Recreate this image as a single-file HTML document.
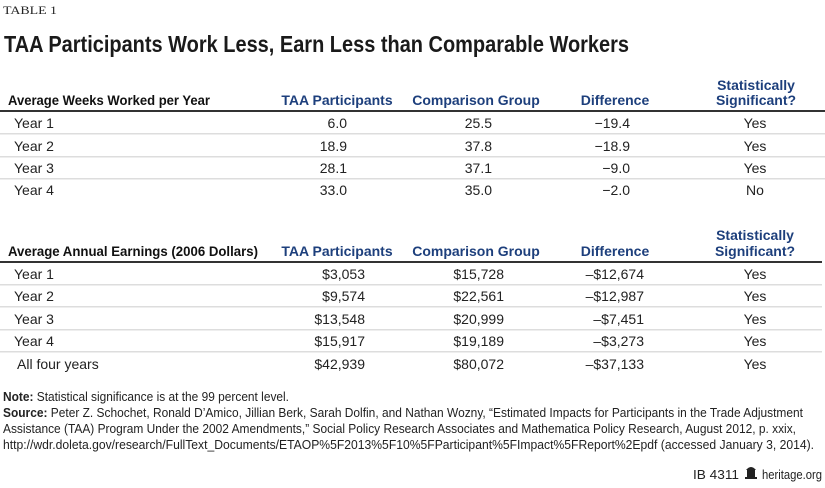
<!DOCTYPE html>
<html><head><meta charset="utf-8"><style>
html,body{margin:0;padding:0;background:#fff;}
svg{display:block;}
text{font-family:"Liberation Sans",sans-serif;}
.r{font-size:14px;fill:#222;}
.h{font-size:14px;font-weight:bold;fill:#111;}
.b{font-size:14px;font-weight:bold;fill:#1d3f7c;}
.f{font-size:12.5px;fill:#222;}
</style></head><body>
<svg width="825" height="488" viewBox="0 0 825 488" xmlns="http://www.w3.org/2000/svg">
<text x="3" y="14" style="font-family:'Liberation Serif',serif;font-size:12px;fill:#222" textLength="54" lengthAdjust="spacingAndGlyphs">TABLE 1</text>
<text x="4" y="52" style="font-size:23px;font-weight:bold;fill:#1a1a1a" textLength="625" lengthAdjust="spacingAndGlyphs">TAA Participants Work Less, Earn Less than Comparable Workers</text>

<!-- Section 1 -->
<text class="h" x="8" y="105" textLength="202" lengthAdjust="spacingAndGlyphs">Average Weeks Worked per Year</text>
<text class="b" x="337" y="105" text-anchor="middle">TAA Participants</text>
<text class="b" x="476" y="105" text-anchor="middle">Comparison Group</text>
<text class="b" x="615" y="105" text-anchor="middle">Difference</text>
<text class="b" x="756" y="90" text-anchor="middle">Statistically</text>
<text class="b" x="756" y="105" text-anchor="middle">Significant?</text>
<rect x="0" y="110" width="825" height="2" fill="#333"/>
<rect x="0" y="133" width="825" height="1.5" fill="#ddd"/>
<rect x="0" y="156" width="825" height="1.5" fill="#ddd"/>
<rect x="0" y="178" width="825" height="1.5" fill="#ddd"/>

<g class="r">
<text class="r" x="14" y="128">Year 1</text><text class="r" x="347" y="128" text-anchor="end">6.0</text><text class="r" x="492" y="128" text-anchor="end">25.5</text><text class="r" x="630" y="128" text-anchor="end">−19.4</text><text class="r" x="755" y="128" text-anchor="middle">Yes</text>
<text class="r" x="14" y="151">Year 2</text><text class="r" x="347" y="151" text-anchor="end">18.9</text><text class="r" x="492" y="151" text-anchor="end">37.8</text><text class="r" x="630" y="151" text-anchor="end">−18.9</text><text class="r" x="755" y="151" text-anchor="middle">Yes</text>
<text class="r" x="14" y="173">Year 3</text><text class="r" x="347" y="173" text-anchor="end">28.1</text><text class="r" x="492" y="173" text-anchor="end">37.1</text><text class="r" x="630" y="173" text-anchor="end">−9.0</text><text class="r" x="755" y="173" text-anchor="middle">Yes</text>
<text class="r" x="14" y="195">Year 4</text><text class="r" x="347" y="195" text-anchor="end">33.0</text><text class="r" x="492" y="195" text-anchor="end">35.0</text><text class="r" x="630" y="195" text-anchor="end">−2.0</text><text class="r" x="755" y="195" text-anchor="middle">No</text>
</g>

<!-- Section 2 -->
<text class="h" x="8" y="256" textLength="250" lengthAdjust="spacingAndGlyphs">Average Annual Earnings (2006 Dollars)</text>
<text class="b" x="337" y="256" text-anchor="middle">TAA Participants</text>
<text class="b" x="476" y="256" text-anchor="middle">Comparison Group</text>
<text class="b" x="615" y="256" text-anchor="middle">Difference</text>
<text class="b" x="755" y="240" text-anchor="middle">Statistically</text>
<text class="b" x="755" y="256" text-anchor="middle">Significant?</text>
<rect x="0" y="261" width="822" height="2" fill="#333"/>
<rect x="0" y="284" width="822" height="1.5" fill="#ddd"/>
<rect x="0" y="306" width="822" height="1.5" fill="#ddd"/>
<rect x="0" y="329" width="822" height="1.5" fill="#ddd"/>
<rect x="0" y="351" width="822" height="1.5" fill="#ddd"/>

<text class="r" x="14" y="279">Year 1</text><text class="r" x="365" y="279" text-anchor="end">$3,053</text><text class="r" x="504" y="279" text-anchor="end">$15,728</text><text class="r" x="644" y="279" text-anchor="end">–$12,674</text><text class="r" x="755" y="279" text-anchor="middle">Yes</text>
<text class="r" x="14" y="301">Year 2</text><text class="r" x="365" y="301" text-anchor="end">$9,574</text><text class="r" x="504" y="301" text-anchor="end">$22,561</text><text class="r" x="644" y="301" text-anchor="end">–$12,987</text><text class="r" x="755" y="301" text-anchor="middle">Yes</text>
<text class="r" x="14" y="324">Year 3</text><text class="r" x="365" y="324" text-anchor="end">$13,548</text><text class="r" x="504" y="324" text-anchor="end">$20,999</text><text class="r" x="644" y="324" text-anchor="end">–$7,451</text><text class="r" x="755" y="324" text-anchor="middle">Yes</text>
<text class="r" x="14" y="346">Year 4</text><text class="r" x="365" y="346" text-anchor="end">$15,917</text><text class="r" x="504" y="346" text-anchor="end">$19,189</text><text class="r" x="644" y="346" text-anchor="end">–$3,273</text><text class="r" x="755" y="346" text-anchor="middle">Yes</text>
<text class="r" x="17" y="369">All four years</text><text class="r" x="365" y="369" text-anchor="end">$42,939</text><text class="r" x="504" y="369" text-anchor="end">$80,072</text><text class="r" x="644" y="369" text-anchor="end">–$37,133</text><text class="r" x="755" y="369" text-anchor="middle">Yes</text>

<!-- Footnotes -->
<text class="f" x="3" y="401" textLength="286" lengthAdjust="spacingAndGlyphs"><tspan font-weight="bold">Note:</tspan> Statistical significance is at the 99 percent level.</text>
<text class="f" x="3" y="417" textLength="800" lengthAdjust="spacingAndGlyphs"><tspan font-weight="bold">Source:</tspan> Peter Z. Schochet, Ronald D’Amico, Jillian Berk, Sarah Dolfin, and Nathan Wozny, “Estimated Impacts for Participants in the Trade Adjustment</text>
<text class="f" x="3" y="433" textLength="793" lengthAdjust="spacingAndGlyphs">Assistance (TAA) Program Under the 2002 Amendments,” Social Policy Research Associates and Mathematica Policy Research, August 2012, p. xxix,</text>
<text class="f" x="3" y="449" textLength="811" lengthAdjust="spacingAndGlyphs">http://wdr.doleta.gov/research/FullText_Documents/ETAOP%5F2013%5F10%5FParticipant%5FImpact%5FReport%2Epdf (accessed January 3, 2014).</text>

<text class="f" x="693" y="479" textLength="46" lengthAdjust="spacingAndGlyphs">IB 4311</text>
<g fill="#222"><rect x="747" y="469" width="8" height="9"/><path d="M746 470 Q751 464 756 470 Z"/><rect x="745" y="477" width="12" height="2"/></g>
<text class="f" x="762" y="479" textLength="60" lengthAdjust="spacingAndGlyphs">heritage.org</text>
</svg>
</body></html>
